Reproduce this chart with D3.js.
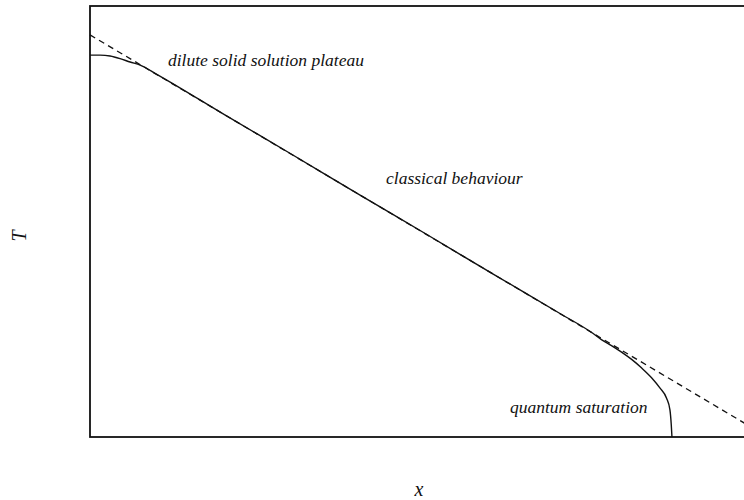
<!DOCTYPE html>
<html>
<head>
<meta charset="utf-8">
<script src="https://cdn.jsdelivr.net/npm/d3@7"></script>
<style>
  html, body { margin: 0; padding: 0; background: #fff; }
  svg { display: block; }
</style>
</head>
<body>
<svg id="chart" width="744" height="500"></svg>
<script>
// Classical straight-line law (dashed): composition x vs temperature T
const classicalX = [0, 10];
const classicalT = [9.33, 0.08];

// Computed curve (solid): plateau at low x, classical middle, quantum drop at high x
const curveX = [0, 0.149, 0.299, 0.448, 0.597, 0.746, 1, 2, 3, 4, 5, 6, 7, 7.46,
                7.61, 7.76, 7.91, 8.06, 8.21, 8.36, 8.48, 8.58, 8.63, 8.65, 8.66];
const curveT = [8.86, 8.86, 8.84, 8.78, 8.70, 8.63, 8.41, 7.48, 6.56, 5.63, 4.71, 3.78, 2.86, 2.43,
                2.26, 2.12, 1.97, 1.80, 1.60, 1.37, 1.14, 0.90, 0.63, 0.28, 0];

// Region annotations
const regionLabels = ["dilute solid solution plateau", "classical behaviour", "quantum saturation"];
const axisLabels = { x: "x", y: "T" };

const serif = "'Liberation Serif', 'Times New Roman', Times, 'DejaVu Serif', serif";

const svg = d3.select("#chart");
const plot = { left: 90, right: 762, top: 6, bottom: 437 };

const xScale = d3.scaleLinear().domain([0, 10]).range([plot.left, plot.right]);
const yScale = d3.scaleLinear().domain([0, 10]).range([plot.bottom, plot.top]);

// Frame
svg.append("rect")
  .attr("x", plot.left).attr("y", plot.top)
  .attr("width", plot.right - plot.left).attr("height", plot.bottom - plot.top)
  .attr("fill", "none").attr("stroke", "#111").attr("stroke-width", 1.8);

const line = d3.line().x(d => xScale(d[0])).y(d => yScale(d[1]));

// Dashed classical line
svg.append("path")
  .datum(classicalX.map((x, i) => [x, classicalT[i]]))
  .attr("d", line)
  .attr("fill", "none").attr("stroke", "#111")
  .attr("stroke-width", 1.3).attr("stroke-dasharray", "6,4.5");

// Solid curve
svg.append("path")
  .datum(curveX.map((x, i) => [x, curveT[i]]))
  .attr("d", line.curve(d3.curveMonotoneX))
  .attr("fill", "none").attr("stroke", "#111").attr("stroke-width", 1.4);

function label(x, y, size, str) {
  return svg.append("text")
    .attr("x", x).attr("y", y)
    .attr("font-family", serif)
    .attr("font-style", "italic")
    .attr("font-size", size)
    .attr("fill", "#111")
    .text(str);
}

// Annotations
const annFont = 17.5;
label(168, 66, annFont, regionLabels[0]);
label(386, 184, annFont, regionLabels[1]);
label(510, 413, annFont, regionLabels[2]);

// Axis titles
label((plot.left + 744) / 2 + 2, 496, 20, axisLabels.x).attr("text-anchor", "middle");
label(0, 0, 20, axisLabels.y)
  .attr("text-anchor", "middle")
  .attr("transform", "translate(26,236) rotate(-90)");
</script>
</body>
</html>
